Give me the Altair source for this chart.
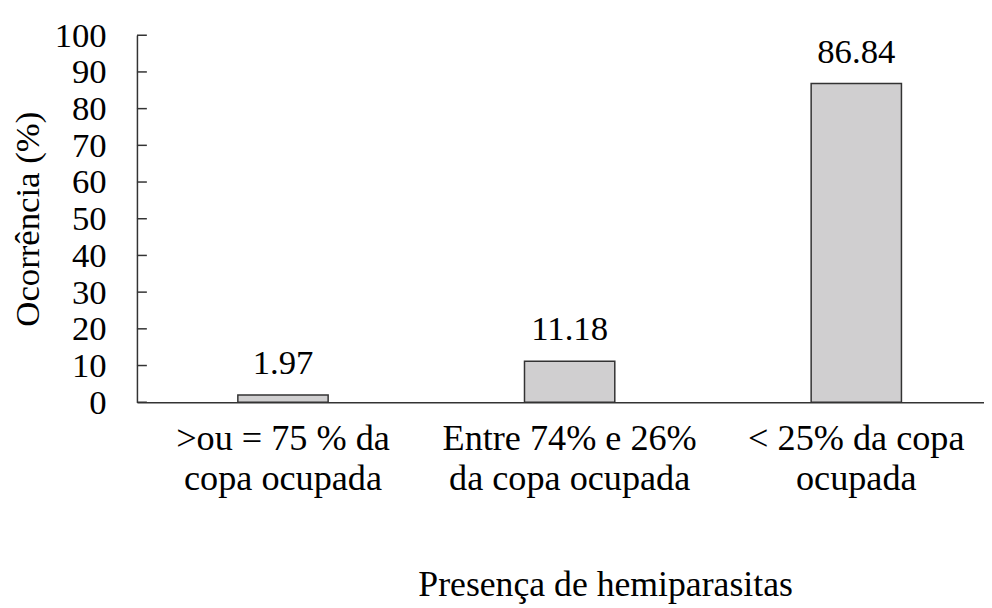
import altair as alt
import pandas as pd

categories = [
    ">ou = 75 % da\ncopa ocupada",
    "Entre 74% e 26%\nda copa ocupada",
    "< 25% da copa\nocupada",
]
values = [1.97, 11.18, 86.84]
value_labels = ["1.97", "11.18", "86.84"]
y_ticks = [0, 10, 20, 30, 40, 50, 60, 70, 80, 90, 100]

df = pd.DataFrame({"cat": categories, "val": values, "lab": value_labels})
ticks_df = pd.DataFrame({"val": y_ticks})

FONT = "'Times New Roman', 'Liberation Serif', Times, 'DejaVu Serif', serif"
FS = 35
LINE = "#333333"

xscale = alt.Scale(paddingInner=0.685, paddingOuter=0.32, align=0.55)
yscale = alt.Scale(domain=[0, 100], nice=False, zero=True)

x_axis = alt.Axis(
    title="Presença de hemiparasitas",
    labelAngle=0,
    labelExpr="split(datum.label, '\\n')",
    labelLineHeight=40,
    labelPadding=19,
    labelBaseline="top",
    labelLimit=0,
    labelOverlap=False,
    ticks=False,
    tickSize=0,
    domainColor=LINE,
    domainWidth=1.5,
    labelFont=FONT,
    labelFontSize=36.5,
    labelColor="black",
    titleFont=FONT,
    titleFontSize=36,
    titleFontWeight="normal",
    titleColor="black",
    titleX=472,
    titleY=195,
    titleAlign="center",
    titleBaseline="alphabetic",
    titleLimit=0,
)

y_axis = alt.Axis(
    title="Ocorrência (%)",
    values=y_ticks,
    grid=False,
    ticks=False,
    tickSize=0,
    labelPadding=31,
    labelOverlap=False,
    labelFlush=False,
    domainColor=LINE,
    domainWidth=1.5,
    labelFont=FONT,
    labelFontSize=FS,
    labelColor="black",
    titleFont=FONT,
    titleFontSize=FS,
    titleFontWeight="normal",
    titleColor="black",
    titleX=-99,
    titleY=185,
    titleAngle=270,
    titleAlign="center",
    titleBaseline="alphabetic",
    titleLimit=0,
)

x_enc = alt.X("cat:N", sort=categories, scale=xscale, axis=x_axis)
y_enc = alt.Y("val:Q", scale=yscale, axis=y_axis)

base = alt.Chart(df)

bars = base.mark_bar(fill="#d0cfd0", stroke=LINE, strokeWidth=1.5).encode(
    x=x_enc, y=y_enc
)

text = base.mark_text(
    dy=-21, baseline="alphabetic", align="center", font=FONT, fontSize=FS, color="black"
).encode(x=x_enc, y=y_enc, text="lab:N")

tick_rules = (
    alt.Chart(ticks_df)
    .mark_rule(color=LINE, strokeWidth=1.5)
    .encode(y=y_enc, x=alt.value(0), x2=alt.value(10))
)

chart = (
    alt.layer(bars, text, tick_rules)
    .properties(
        width=854,
        height=370,
        autosize="none",
        padding={"left": 130, "top": 25, "right": 0, "bottom": 205},
        background="white",
    )
    .configure_view(stroke=None)
    .configure_axis(labelFont=FONT, titleFont=FONT)
    .configure_text(font=FONT)
)

chart.save("out.html", embed_options={"renderer": "svg", "actions": False})
